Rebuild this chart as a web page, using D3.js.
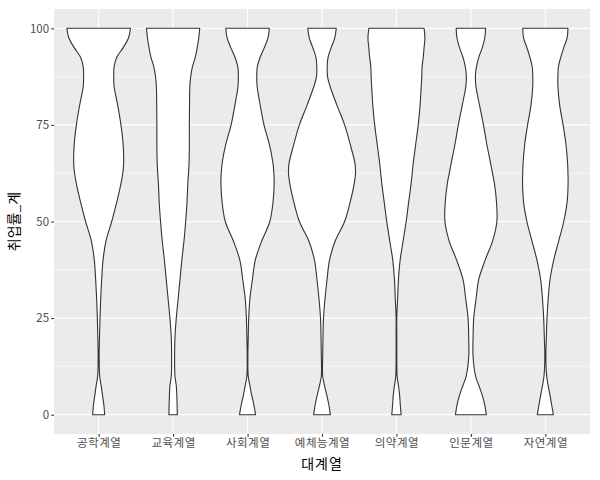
<!DOCTYPE html>
<html><head><meta charset="utf-8">
<script src="https://cdn.jsdelivr.net/npm/d3@7"></script>
<style>body{margin:0;background:#fff}svg{display:block}</style>
</head><body>
<svg id="chart" width="600" height="480"></svg>
<script>
const categories = ["공학계열","교육계열","사회계열","예체능계열","의약계열","인문계열","자연계열"];
const levels = [100,97.5,95,92.5,90,87.5,85,80,75,70,65,62.5,60,55,50,45,40,35,30,25,20,15,10,7.5,5,2.5,0];
const dens공학 = [95,89,73,54,46,45,46,57,66.5,73,74.5,72,67,54,39,22,13,9,6,4,2.5,1.5,3,7.5,11.5,15.5,18];
const dens교육 = [79.5,76.5,72,66,57.5,52.5,50,49,48.5,48.5,47.5,46,44,41.5,37.5,32.5,26,20.5,15,9.5,5.5,4.5,5.5,9.5,11,12,12.5];
const dens사회 = [65,61,50,37.5,29,27.5,28.5,38,49,65,76,78.5,79.5,76,66.5,42.5,23,14.5,7,3.5,2,1,2,7,12.5,19,24];
const dens예체능 = [42.5,38,27.5,18,15.5,16.5,24,45,67.5,84,98.5,100,96.5,84,67.5,39.5,22.5,15,9,4.5,3,2,2,7.5,14.5,20.5,25];
const dens의약 = [82.5,85,82.5,80,76.5,75.5,74,70.5,65,57.5,50,47,44,36.5,29,20,11,6,3.5,1,1,1,2,6,9.5,11.5,14];
const dens인문 = [44,41.5,34,23.5,16.5,13.5,15,26,37.5,47.5,59,64.5,70,76.5,77.5,65,42.5,23.5,15.5,8.5,6.5,6.5,14,24,34,41.5,46];
const dens자연 = [67.5,65,55,46,39,37.5,37.5,43,53,61.5,66.5,67.5,68,65,55,40,25,14,8.5,5,3,1.5,4,8.5,14,19,24];
const densities = [dens공학,dens교육,dens사회,dens예체능,dens의약,dens인문,dens자연];
const yTicks = [0,25,50,75,100];
const yMinor = [12.5,37.5,62.5,87.5];

const svg = d3.select("#chart");
const L = 54, R = 590, T = 9, B = 434;
const font = "'Noto Sans CJK KR','Noto Sans',sans-serif";

const x = d3.scalePoint().domain(categories).range([L, R]).padding(0.6);
const y = d3.scaleLinear().domain([-5, 105]).range([B, T]);
const maxD = d3.max(densities.flat());
const w = d3.scaleLinear().domain([0, maxD]).range([0, x.step() * 0.45]);

svg.append("rect").attr("x", L).attr("y", T).attr("width", R - L).attr("height", B - T).attr("fill", "#EBEBEB");

const g = svg.append("g");
g.selectAll(".minor").data(yMinor).join("line")
  .attr("x1", L).attr("x2", R).attr("y1", d => y(d)).attr("y2", d => y(d))
  .attr("stroke", "#fff").attr("stroke-width", 0.6);
g.selectAll(".major").data(yTicks).join("line")
  .attr("x1", L).attr("x2", R).attr("y1", d => y(d)).attr("y2", d => y(d))
  .attr("stroke", "#fff").attr("stroke-width", 1.2);
g.selectAll(".vmajor").data(categories).join("line")
  .attr("x1", d => x(d)).attr("x2", d => x(d)).attr("y1", T).attr("y2", B)
  .attr("stroke", "#fff").attr("stroke-width", 1.2);

categories.forEach((c, i) => {
  const pts = levels.map((lv, j) => ({ v: lv, d: densities[i][j] }));
  const area = d3.area()
    .y(p => y(p.v))
    .x0(p => x(c) - w(p.d))
    .x1(p => x(c) + w(p.d))
    .curve(d3.curveCatmullRom.alpha(0.5));
  svg.append("path").attr("d", area(pts))
    .attr("fill", "#fff").attr("stroke", "#333333").attr("stroke-width", 1.1)
    .attr("stroke-linejoin", "round");
});

// axes
const yAxis = d3.axisLeft(y).tickValues(yTicks).tickSize(2.75).tickPadding(2.2);
const ya = svg.append("g").attr("transform", `translate(${L},0)`).call(yAxis);
const xAxis = d3.axisBottom(x).tickSize(2.75).tickPadding(2.2);
const xa = svg.append("g").attr("transform", `translate(0,${B})`).call(xAxis);
[ya, xa].forEach(a => {
  a.select(".domain").remove();
  a.selectAll(".tick line").attr("stroke", "#333333").attr("stroke-width", 1.1);
  a.selectAll(".tick text").attr("fill", "#4D4D4D").style("font-family", font).style("font-size", "11.5px");
});
xa.selectAll(".tick text").style("letter-spacing", "0.5px");

svg.append("text").attr("x", (L + R) / 2).attr("y", 469).attr("text-anchor", "middle")
  .style("font-family", font).style("font-size", "14px").style("letter-spacing", "1px").attr("fill", "#000").text("대계열");
svg.append("text").attr("transform", `translate(19,${(T + B) / 2}) rotate(-90)`).attr("text-anchor", "middle")
  .style("font-family", font).style("font-size", "14px").attr("fill", "#000").text("취업률_계");
</script>
</body></html>
